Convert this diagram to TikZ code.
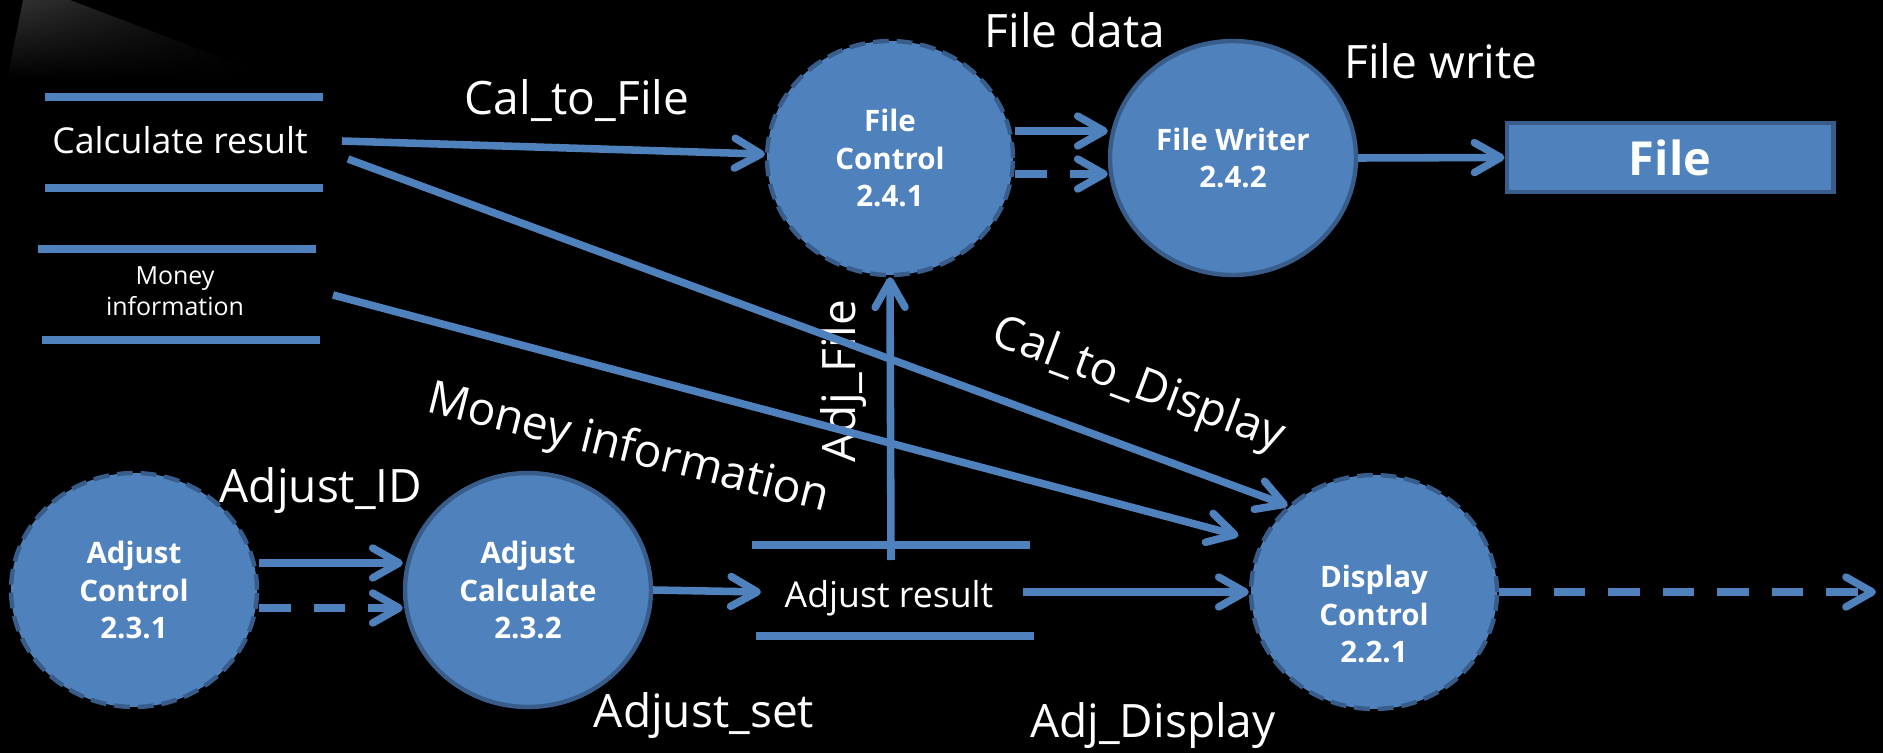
\documentclass[tikz,border=0pt]{standalone}
\usepackage{fontspec}
\setmainfont{Open Sans}
\usetikzlibrary{arrows.meta,shapes.geometric,fadings}
\definecolor{fillblue}{HTML}{4F81BD}
\definecolor{edgeblue}{HTML}{385D8A}
\definecolor{glowgray}{HTML}{333333}
\begin{document}
\begin{tikzpicture}[x=0.02cm,y=-0.02cm,
  proc/.style={ellipse, fill=fillblue, draw=edgeblue, line width=2.5pt,
    minimum width=4.92cm, minimum height=4.68cm, inner sep=0pt,
    text=white, font=\fontsize{16.8}{21.6}\selectfont\bfseries, align=center},
  dashedproc/.style={proc, dash pattern=on 9pt off 4.5pt},
  proctext/.style={text=white, font=\fontsize{16.8}{21.6}\selectfont\bfseries, align=center, inner sep=0pt},
  flow/.style={line width=4.3pt, draw=fillblue, -{Straight Barb[length=15pt,width=17pt,round]}},
  dflow/.style={flow, dash pattern=on 18pt off 13pt},
  storeline/.style={line width=4.2pt, draw=fillblue},
  lbl/.style={text=white, font=\fontsize{26.2}{31}\selectfont, inner sep=0pt},
  storetext/.style={text=white, font=\fontsize{20.3}{24}\selectfont, inner sep=0pt}
]
\fill[black] (0,0) rectangle (1883,753);
\useasboundingbox (0,0) rectangle (1883,753);
\shade[top color=glowgray, bottom color=black, path fading=east] (23,0) -- (70,0) -- (280,80) -- (7,80) -- cycle;

% data stores
\draw[storeline] (45,97) -- (323,97);
\draw[storeline] (45,188) -- (323,188);
\node[storetext, anchor=base] (calc) at (180,154) {Calculate result};
\draw[storeline] (38,249) -- (316,249);
\draw[storeline] (42,340) -- (320,340);
\node[text=white, font=\fontsize{14.2}{17.6}\selectfont, align=center, inner sep=0pt] (money) at (175,291) {Money\\information};
\draw[storeline] (752,545) -- (1030,545);
\draw[storeline] (756,636) -- (1034,636);
\node[storetext, anchor=base] (adjres) at (889,607) {Adjust result};

% processes
\node[dashedproc] (FC) at (890,158) {File\\Control\\2.4.1};
\node[proc] (FW) at (1233,158) {File Writer\\2.4.2};
\node[dashedproc] (AC) at (134,590) {Adjust\\Control\\2.3.1};
\node[proc] (ACalc) at (528,590) {Adjust\\Calculate\\2.3.2};
\node[dashedproc] (DC) at (1374,592) {};
\node[proctext] (DCt) at (1374,614) {Display\\Control\\2.2.1};
\node[fill=fillblue, draw=edgeblue, line width=2.3pt, minimum width=6.54cm, minimum height=1.38cm,
  text=white, font=\fontsize{26.7}{32}\selectfont\bfseries, inner sep=0pt] (File) at (1670,157.5) {File};

% labels
\node[lbl, anchor=base] (lCF) at (577,115) {Cal\_to\_File};
\node[lbl, anchor=base] (lFD) at (1075,48) {File data};
\node[lbl, anchor=base] (lFW) at (1441,79) {File write};
\node[lbl, anchor=base] (lAID) at (321,502) {Adjust\_ID};
\node[lbl, anchor=base] (lAS) at (704,727) {Adjust\_set};
\node[lbl, anchor=base] (lAD) at (1153,737) {Adj\_Display};
\node[lbl, anchor=base, rotate=90] (lAF) at (855,381) {Adj\_File};
\node[lbl, rotate=-20.5] (lCD) at (1138,386) {Cal\_to\_Display};
\node[lbl, rotate=-14] (lMI) at (628,450) {Money information};

% connector ends
\coordinate (c1) at (342,141);
\coordinate (c2) at (348,159);
\coordinate (m1) at (333,295);
\coordinate (af) at (891,560);
\coordinate (arin) at (761,592);
\coordinate (arout) at (1023,592);
\coordinate (out) at (1876,592);

% connectors
\draw[flow] (c1) -- (FC);
\draw[flow] (c2) -- (DC.135);
\draw[flow, shorten >=0.46cm] (m1) -- (DC.156);
\draw[flow] (af) -- (FC.south);
\draw[flow] ([yshift=0.54cm]FC.east) -- ([yshift=0.54cm]FW.west);
\draw[dflow] ([yshift=-0.32cm]FC.east) -- ([yshift=-0.32cm]FW.west);
\draw[flow] (FW.east) -- (File.west);
\draw[flow] ([yshift=0.54cm]AC.east) -- ([yshift=0.54cm]ACalc.west);
\draw[dflow] ([yshift=-0.36cm]AC.east) -- ([yshift=-0.36cm]ACalc.west);
\draw[flow] (ACalc.east) -- (arin);
\draw[flow] (arout) -- (DC.west);
\draw[dflow] (DC.east) -- (out);
\end{tikzpicture}
\end{document}
